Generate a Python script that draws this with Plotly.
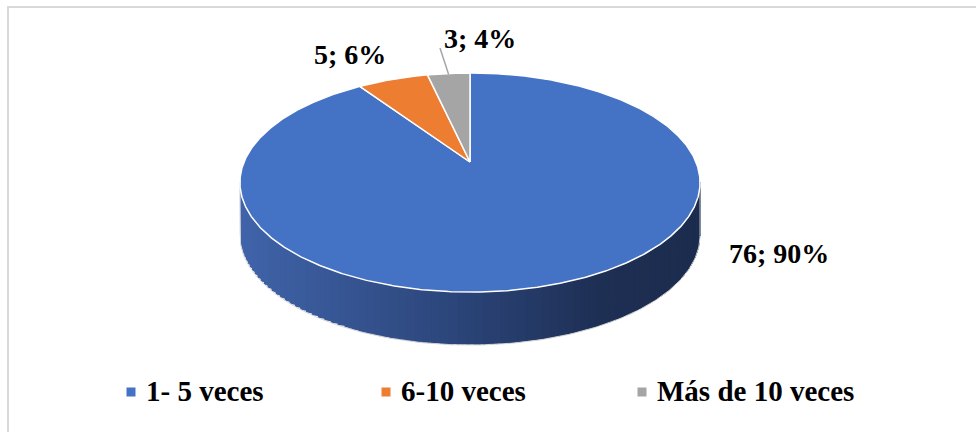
import numpy as np
import plotly.graph_objects as go

# ---- data -------------------------------------------------------------
categories = ["1- 5 veces", "6-10 veces", "Más de 10 veces"]
values = [76, 5, 3]
colors = ["#4472C4", "#ED7D31", "#A5A5A5"]

# ---- geometry of the tilted (perspective) pie, in pixel units ---------
W, H = 976, 432
CX, CY = 470.0, 162.0      # projected centre of the disk
A, B = 226.0, 105.7        # horizontal / vertical semi-axes before perspective
K = 0.1872                 # perspective strength (far edge looks smaller)
DEPTH = 53.0               # thickness of the disk


def proj(theta_deg, drop=0.0):
    """Angle measured clockwise from 12 o'clock -> screen x, y."""
    t = np.radians(theta_deg)
    u, v = np.sin(t), np.cos(t)
    w = 1 + K * v
    return CX + A * u / w, CY - B * v / w + drop


total = sum(values)
fracs = [v / total for v in values]
starts = np.concatenate([[0.0], np.cumsum(fracs)[:-1]]) * 360
ends = np.cumsum(fracs) * 360

fig = go.Figure()

# ---- side wall (only the front part is visible) -----------------------
th_left = 360 - np.degrees(np.arccos(-K))
th_right = np.degrees(np.arccos(-K))


def side_color(x):
    xs = [240, 470, 600, 700]
    cs = np.array([[64, 100, 170], [42, 67, 118], [30, 47, 84], [27, 44, 78]])
    return "rgb(%d,%d,%d)" % tuple(
        int(round(np.interp(x, xs, cs[:, i]))) for i in range(3)
    )


# each band runs from its own start all the way to the right end of the
# wall; drawing them left to right leaves no seams between bands
edges = np.linspace(th_left, th_right, 90)
for a0, a1 in zip(edges[:-1], edges[1:]):
    arc = np.linspace(a0, th_right, max(int((th_right - a0) * 1.5), 4))
    tx, ty = proj(arc)
    bx, by = proj(arc[::-1], DEPTH)
    mx0, _ = proj(np.array([(a0 + a1) / 2]))
    col = side_color(mx0[0])
    fig.add_trace(go.Scatter(
        x=np.concatenate([tx, bx]), y=np.concatenate([ty, by]),
        fill="toself", fillcolor=col, mode="none",
        hoverinfo="skip", showlegend=False,
    ))

# faint outline round the wall
arc = np.linspace(th_left, th_right, 200)
bx, by = proj(arc, DEPTH)
lx, ly = proj(np.array([th_left]))
rx, ry = proj(np.array([th_right]))
fig.add_trace(go.Scatter(
    x=np.concatenate([lx, bx, rx]), y=np.concatenate([ly, by, ry]),
    mode="lines", line=dict(color="#d4d4d4", width=1),
    hoverinfo="skip", showlegend=False,
))

# ---- top faces of the slices ------------------------------------------
for name, s, e, col in zip(categories, starts, ends, colors):
    arc = np.linspace(s, e, max(int((e - s) * 2), 6))
    ax_, ay_ = proj(arc)
    fig.add_trace(go.Scatter(
        x=np.concatenate([[CX], ax_, [CX]]), y=np.concatenate([[CY], ay_, [CY]]),
        fill="toself", fillcolor=col, mode="lines",
        line=dict(color="white", width=1.5), name=name,
        hoverinfo="skip", showlegend=False,
    ))

# ---- data labels ------------------------------------------------------
label_font = dict(family="Liberation Serif, Times New Roman, serif",
                  size=28, color="black", weight="bold")
label_pos = [(779, 253), (350, 54), (480, 38)]
for v, f, (lx_, ly_) in zip(values, fracs, label_pos):
    fig.add_annotation(x=lx_, y=ly_, text=f"{v}; {round(f * 100)}%",
                       showarrow=False, font=label_font,
                       xanchor="center", yanchor="middle")

# leader line from the small grey slice to its label
mx, my = proj(np.array([(starts[2] + ends[2]) / 2]))
fig.add_trace(go.Scatter(
    x=[mx[0], 440], y=[my[0] + 1, 48], mode="lines",
    line=dict(color="#A6A6A6", width=1.5), hoverinfo="skip", showlegend=False,
))

# ---- legend -----------------------------------------------------------
leg_x = [131, 386, 642]
leg_y = 392
leg_font = dict(label_font, size=29)
fig.add_trace(go.Scatter(
    x=leg_x, y=[leg_y] * 3, mode="markers",
    marker=dict(symbol="square", size=9, color=colors, line=dict(width=0)),
    hoverinfo="skip", showlegend=False,
))
for name, x in zip(categories, leg_x):
    fig.add_annotation(x=x + 13, y=leg_y - 1, text=name, showarrow=False,
                       font=leg_font, xanchor="left", yanchor="middle")

# chart frame
fig.add_shape(type="rect", x0=8, y0=7, x1=W + 5, y1=H + 5,
              line=dict(color="#D9D9D9", width=2), layer="below")

fig.update_layout(
    width=W, height=H, margin=dict(l=0, r=0, t=0, b=0),
    paper_bgcolor="white", plot_bgcolor="white",
    xaxis=dict(range=[0, W], visible=False, fixedrange=True),
    yaxis=dict(range=[H, 0], visible=False, fixedrange=True),
)

fig.write_html("out.html")
